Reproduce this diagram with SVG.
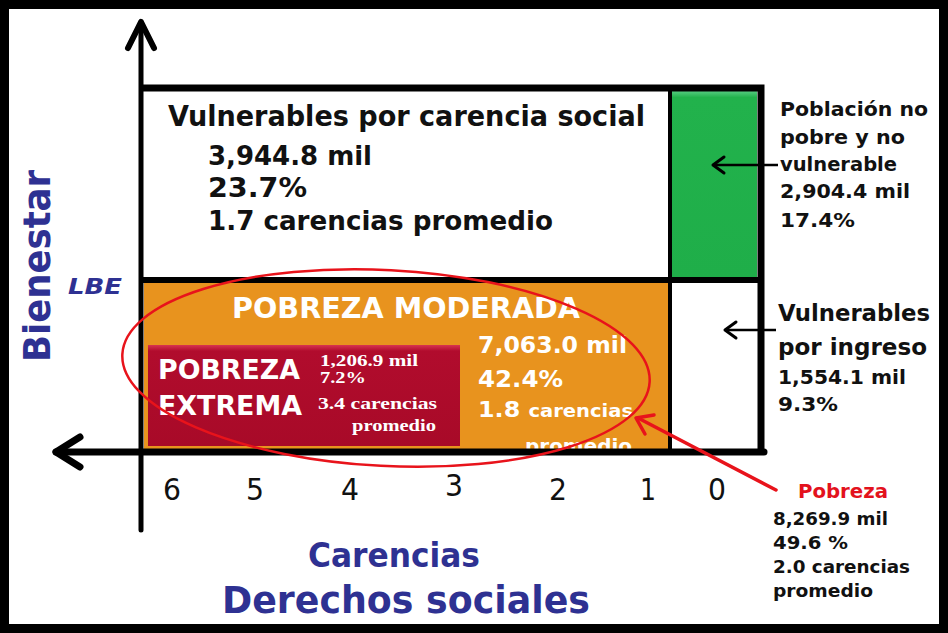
<svg xmlns="http://www.w3.org/2000/svg" width="948" height="633" viewBox="0 0 948 633">
<defs>
<linearGradient id="gGreen" x1="0" y1="0" x2="0" y2="1"><stop offset="0" stop-color="#5fd08a"/><stop offset="0.04" stop-color="#22b24c"/><stop offset="1" stop-color="#1fae49"/></linearGradient>
<linearGradient id="gRed" x1="0" y1="0" x2="0" y2="1"><stop offset="0" stop-color="#d8344f"/><stop offset="0.06" stop-color="#b10c2d"/><stop offset="1" stop-color="#a80a28"/></linearGradient>
<clipPath id="cOrange"><rect x="144" y="283" width="525" height="166"/></clipPath>
<style>
.t{font-family:"DejaVu Sans",Verdana,sans-serif;font-weight:bold;}
.c{font-family:"DejaVu Sans Condensed","DejaVu Sans",sans-serif;font-weight:bold;}
.blk{fill:#111;}
.wht{fill:#fff;}
.blue{fill:#2e3192;}
.ser{font-family:"Liberation Serif","DejaVu Serif",serif;font-weight:bold;fill:#fff;font-size:16px;}
.num{font-family:"DejaVu Sans Condensed","DejaVu Sans",sans-serif;font-size:31px;fill:#111;}
.ax{stroke:#000;fill:none;stroke-linecap:round;stroke-linejoin:round;}
</style>
</defs>
<rect x="0" y="0" width="948" height="633" fill="#fff"/>
<rect x="4.5" y="4.5" width="939" height="624" fill="none" stroke="#000" stroke-width="9"/>

<g id="areas">
<rect id="green" x="672" y="90" width="85" height="187" fill="url(#gGreen)"/>
<rect id="orange" x="144" y="283" width="525" height="166" fill="#e8931e"/>
<rect id="extreme" x="148" y="345" width="312" height="101" fill="url(#gRed)"/>
</g>

<g id="vuln-social">
<text class="c blk" x="168" y="126" font-size="29" textLength="477" lengthAdjust="spacingAndGlyphs">Vulnerables por carencia social</text>
<text class="c blk" x="208" y="165" font-size="27" textLength="164" lengthAdjust="spacingAndGlyphs">3,944.8 mil</text>
<text class="c blk" x="208" y="197" font-size="27" textLength="99" lengthAdjust="spacingAndGlyphs">23.7%</text>
<text class="c blk" x="208" y="230" font-size="27" textLength="345" lengthAdjust="spacingAndGlyphs">1.7 carencias promedio</text>
</g>

<g id="pobreza-moderada">
<text class="c wht" x="232" y="318" font-size="28" textLength="348" lengthAdjust="spacingAndGlyphs">POBREZA MODERADA</text>
<text class="t wht" x="478" y="353" font-size="23" textLength="149" lengthAdjust="spacingAndGlyphs">7,063.0 mil</text>
<text class="t wht" x="478" y="387" font-size="23" textLength="85" lengthAdjust="spacingAndGlyphs">42.4%</text>
<text class="t wht" x="478" y="417" font-size="22" textLength="155" lengthAdjust="spacingAndGlyphs">1.8 <tspan font-size="18">carencias</tspan></text>
<text class="t wht" x="525" y="453" font-size="19" textLength="107" lengthAdjust="spacingAndGlyphs" clip-path="url(#cOrange)">promedio</text>
</g>

<g id="pobreza-extrema">
<text class="c wht" x="158" y="379" font-size="27" textLength="142" lengthAdjust="spacingAndGlyphs">POBREZA</text>
<text class="c wht" x="158" y="415" font-size="27" textLength="144" lengthAdjust="spacingAndGlyphs">EXTREMA</text>
<text class="ser" x="320" y="366" textLength="98" lengthAdjust="spacingAndGlyphs">1,206.9 mil</text>
<text class="ser" x="320" y="383" textLength="46" lengthAdjust="spacingAndGlyphs">7.2%</text>
<text class="ser" x="318" y="409" textLength="119" lengthAdjust="spacingAndGlyphs">3.4 carencias</text>
<text class="ser" x="352" y="431" textLength="84" lengthAdjust="spacingAndGlyphs">promedio</text>
</g>

<g id="axes">
<line class="ax" x1="141" y1="22" x2="141" y2="530" stroke-width="5"/>
<polyline class="ax" points="128,48 141,22 154,48" stroke-width="6"/>
<line class="ax" x1="56" y1="452" x2="764" y2="452" stroke-width="7"/>
<polyline class="ax" points="80,437 56,452 80,467" stroke-width="7"/>
<polyline points="141,88 761,88 761,452" fill="none" stroke="#000" stroke-width="7"/>
<line x1="141" y1="280" x2="761" y2="280" stroke="#000" stroke-width="6"/>
<line x1="670" y1="88" x2="670" y2="452" stroke="#000" stroke-width="4"/>
</g>

<g id="no-pobre">
<text class="t blk" x="780" y="116" font-size="19" textLength="148" lengthAdjust="spacingAndGlyphs">Población no</text>
<text class="t blk" x="780" y="144" font-size="19" textLength="125" lengthAdjust="spacingAndGlyphs">pobre y no</text>
<text class="t blk" x="780" y="171" font-size="19" textLength="117" lengthAdjust="spacingAndGlyphs">vulnerable</text>
<text class="t blk" x="780" y="198" font-size="19" textLength="130" lengthAdjust="spacingAndGlyphs">2,904.4 mil</text>
<text class="t blk" x="780" y="227" font-size="19" textLength="75" lengthAdjust="spacingAndGlyphs">17.4%</text>
</g>

<g id="vuln-ingreso">
<text class="t blk" x="778" y="321" font-size="23" textLength="152" lengthAdjust="spacingAndGlyphs">Vulnerables</text>
<text class="t blk" x="778" y="355" font-size="23" textLength="149" lengthAdjust="spacingAndGlyphs">por ingreso</text>
<text class="t blk" x="778" y="384" font-size="19" textLength="128" lengthAdjust="spacingAndGlyphs">1,554.1 mil</text>
<text class="t blk" x="778" y="411" font-size="19" textLength="60" lengthAdjust="spacingAndGlyphs">9.3%</text>
</g>

<g id="pobreza-total">
<text class="c" x="798" y="498" font-size="20" fill="#e3121d" textLength="90" lengthAdjust="spacingAndGlyphs">Pobreza</text>
<text class="c blk" x="773" y="525" font-size="18" textLength="115" lengthAdjust="spacingAndGlyphs">8,269.9 mil</text>
<text class="c blk" x="773" y="549" font-size="18" textLength="75" lengthAdjust="spacingAndGlyphs">49.6 %</text>
<text class="c blk" x="773" y="573" font-size="18" textLength="137" lengthAdjust="spacingAndGlyphs">2.0 carencias</text>
<text class="c blk" x="773" y="597" font-size="18" textLength="100" lengthAdjust="spacingAndGlyphs">promedio</text>
</g>

<g id="connectors">
<ellipse cx="386" cy="368" rx="264" ry="98" fill="none" stroke="#e8131b" stroke-width="2.5" transform="rotate(3 386 368)"/>
<line x1="776" y1="490" x2="638" y2="418" stroke="#e8131b" stroke-width="3.5" stroke-linecap="round"/>
<polyline points="645,434 636,418 654,415" fill="none" stroke="#e8131b" stroke-width="3.5" stroke-linecap="round" stroke-linejoin="round"/>
<line x1="778" y1="165" x2="714" y2="165" stroke="#000" stroke-width="2.5"/>
<polyline points="724,157 713,165 724,173" fill="none" stroke="#000" stroke-width="3" stroke-linecap="round" stroke-linejoin="round"/>
<line x1="776" y1="330" x2="726" y2="330" stroke="#000" stroke-width="2.5"/>
<polyline points="736,322 725,330 736,338" fill="none" stroke="#000" stroke-width="3" stroke-linecap="round" stroke-linejoin="round"/>
</g>

<g id="axis-labels">
<text class="num" x="163" y="500" textLength="18" lengthAdjust="spacingAndGlyphs">6</text>
<text class="num" x="246" y="500" textLength="18" lengthAdjust="spacingAndGlyphs">5</text>
<text class="num" x="341" y="500" textLength="18" lengthAdjust="spacingAndGlyphs">4</text>
<text class="num" x="445" y="496" textLength="18" lengthAdjust="spacingAndGlyphs">3</text>
<text class="num" x="549" y="500" textLength="18" lengthAdjust="spacingAndGlyphs">2</text>
<text class="num" x="640" y="500" textLength="16" lengthAdjust="spacingAndGlyphs">1</text>
<text class="num" x="708" y="500" textLength="18" lengthAdjust="spacingAndGlyphs">0</text>
<text class="c blue" x="394" y="567" font-size="33" text-anchor="middle" textLength="172" lengthAdjust="spacingAndGlyphs">Carencias</text>
<text class="c blue" x="406" y="613" font-size="37" text-anchor="middle" textLength="368" lengthAdjust="spacingAndGlyphs">Derechos sociales</text>
<text class="c blue" x="0" y="0" font-size="38" transform="translate(50 362) rotate(-90)" textLength="192" lengthAdjust="spacingAndGlyphs">Bienestar</text>
<text class="t blue" x="68" y="294" font-size="21" font-style="italic" textLength="54" lengthAdjust="spacingAndGlyphs">LBE</text>
</g>
</svg>
